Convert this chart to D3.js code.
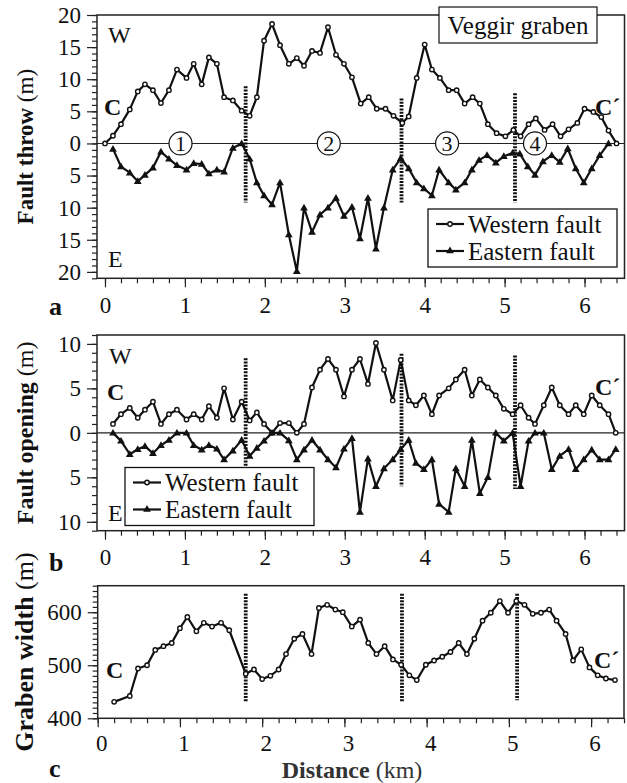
<!DOCTYPE html>
<html lang="en">
<head>
<meta charset="UTF-8" />
<title>Veggir graben</title>
<script src="https://d3js.org/d3.v7.min.js"></script>
<style>
  body { margin: 0; background: #fff; }
  svg { display: block; }
  text { font-family: 'Liberation Serif', 'Times New Roman', serif; fill: #111; }
  .axis line { stroke: #222; stroke-width: 1.2px; }
  .axis text { font-size: 23px; font-family: 'Liberation Serif', serif; fill: #111; }
  .frame { fill: none; stroke: #222; stroke-width: 1.5px; }
  .zero { stroke: #222; stroke-width: 1.1px; }
  .trace { fill: none; stroke: #111; stroke-width: 2.2px; stroke-linejoin: round; }
  .bound { stroke: #111; stroke-width: 3.8px; stroke-dasharray: 2 1.3; }
</style>
</head>
<body>
<svg width="627" height="783"></svg>
<script>
// panel a: fault throw (m), distance in km
const kmA_W = [0, 0.1, 0.2, 0.31, 0.41, 0.5, 0.6, 0.7, 0.8, 0.9,
  1.02, 1.11, 1.21, 1.3, 1.4, 1.49, 1.6, 1.71, 1.81, 1.9,
  1.99, 2.09, 2.19, 2.3, 2.4, 2.49, 2.59, 2.69, 2.79, 2.89,
  2.99, 3.09, 3.2, 3.3, 3.4, 3.51, 3.61, 3.72, 3.8, 3.9,
  4.0, 4.09, 4.19, 4.3, 4.4, 4.5, 4.6, 4.69, 4.79, 4.9,
  5.01, 5.11, 5.2, 5.3, 5.39, 5.5, 5.6, 5.7, 5.8, 5.91,
  6.0, 6.11, 6.21, 6.3, 6.4];
const throwW = [0, 1.2, 3.0, 5.3, 8.1, 9.2, 8.3, 6.3, 8.3, 11.5,
  10.2, 12.4, 9.2, 13.4, 12.4, 7.2, 6.7, 5.1, 4.3, 7.2,
  16.0, 18.6, 15.3, 12.4, 13.3, 12.1, 14.4, 14.1, 18.1, 13.8,
  12.4, 10.3, 6.2, 7.2, 5.4, 5.4, 4.3, 3.2, 4.2, 10.2,
  15.4, 11.5, 10.2, 8.3, 8.3, 6.2, 7.2, 6.2, 3.0, 1.6,
  1.1, 2.1, 1.1, 3.0, 3.9, 2.1, 3.0, 1.1, 2.2, 3.2,
  5.4, 4.9, 4.1, 2.0, 0];
const kmA_E = [0.1, 0.2, 0.31, 0.41, 0.5, 0.6, 0.7, 0.8, 0.9,
  1.02, 1.11, 1.21, 1.3, 1.4, 1.49, 1.6, 1.71, 1.81, 1.9,
  1.99, 2.09, 2.19, 2.3, 2.4, 2.49, 2.59, 2.69, 2.79, 2.89,
  2.99, 3.09, 3.19, 3.29, 3.39, 3.49, 3.6, 3.7, 3.8, 3.9,
  3.99, 4.09, 4.18, 4.3, 4.39, 4.5, 4.59, 4.68, 4.78, 4.89,
  4.99, 5.1, 5.19, 5.29, 5.38, 5.48, 5.59, 5.69, 5.79, 5.89,
  5.99, 6.09, 6.19, 6.3];
const throwE = [0.85, 3.6, 4.55, 5.9, 4.9, 3.8, 1.3, 2.4, 3.4,
  4.1, 3.1, 3.2, 4.7, 4.1, 4.4, 0.7, 0, 2.4, 6.1,
  8.1, 9.5, 6.1, 14.2, 19.9, 10.0, 13.8, 11.1, 10.0, 8.5,
  11.3, 9.9, 14.8, 8.5, 16.4, 10.0, 4.1, 2.3, 3.9, 6.1,
  7.0, 8.1, 4.1, 6.1, 7.2, 6.1, 4.1, 2.6, 1.85, 3.0,
  2.0, 1.5, 1.6, 3.6, 4.9, 2.8, 1.85, 2.9, 0.8, 3.9,
  6.1, 3.9, 1.85, 0];

// panel b: fault opening (m)
const kmB = [0.1, 0.2, 0.31, 0.41, 0.5, 0.6, 0.7, 0.8, 0.9,
  1.02, 1.11, 1.21, 1.3, 1.4, 1.49, 1.6, 1.71, 1.81, 1.9,
  1.99, 2.09, 2.19, 2.3, 2.4, 2.49, 2.59, 2.69, 2.79, 2.89,
  2.99, 3.09, 3.19, 3.29, 3.39, 3.49, 3.6, 3.7, 3.8, 3.89,
  3.99, 4.09, 4.18, 4.3, 4.39, 4.5, 4.59, 4.69, 4.79, 4.89,
  4.99, 5.1, 5.2, 5.3, 5.38, 5.49, 5.59, 5.69, 5.8, 5.89,
  5.99, 6.09, 6.19, 6.3, 6.39];
const openW = [1.0, 2.1, 2.8, 1.7, 2.6, 3.5, 1.0, 2.1, 2.6,
  1.5, 2.1, 1.5, 3.0, 1.7, 5.0, 1.5, 3.5, 1.4, 2.3,
  1.0, 0, 1.1, 1.1, 0, 1.0, 5.1, 7.1, 8.3, 7.1,
  4.1, 7.1, 8.3, 5.5, 10.1, 7.1, 3.65, 8.2, 3.65, 3.1,
  4.2, 2.1, 4.2, 5.0, 6.0, 7.1, 4.2, 6.0, 5.1, 4.2,
  2.7, 2.1, 3.1, 1.7, 1.0, 3.1, 5.1, 3.1, 2.1, 3.1,
  2.1, 4.2, 3.1, 2.1, 0];
const openE = [0, 0.9, 2.4, 1.85, 1.5, 2.3, 1.4, 0.8, 0,
  0, 1.4, 1.9, 1.4, 1.8, 3.0, 2.0, 0.8, 2.6, 1.7,
  0.9, 0, 0, 0.85, 3.0, 1.9, 0.8, 1.9, 3.0, 3.9,
  1.8, 0.6, 8.9, 2.9, 6.0, 4.0, 3.0, 1.85, 0.8, 3.4,
  4.1, 3.0, 8.0, 8.9, 4.0, 6.0, 0.8, 6.8, 5.0, 0,
  0.9, 0, 6.0, 0.9, 0, 0, 4.1, 2.6, 1.85, 4.1,
  3.0, 1.9, 3.0, 3.0, 1.85];

// panel c: graben width (m)
const kmC = [0.2, 0.39, 0.49, 0.6, 0.7, 0.8, 0.9, 1.0, 1.09, 1.2,
  1.29, 1.39, 1.5, 1.6, 1.8, 1.9, 2.0, 2.1, 2.2, 2.29,
  2.39, 2.49, 2.6, 2.69, 2.79, 2.89, 2.98, 3.09, 3.19, 3.29,
  3.39, 3.49, 3.59, 3.69, 3.79, 3.88, 3.99, 4.09, 4.19, 4.29,
  4.39, 4.49, 4.58, 4.68, 4.78, 4.89, 4.99, 5.09, 5.19, 5.29,
  5.39, 5.49, 5.58, 5.69, 5.78, 5.88, 5.98, 6.08, 6.18, 6.29];
const widthC = [431, 442, 494, 500, 529, 536, 542, 570, 591, 564,
  580, 573, 580, 566, 484, 492, 474, 480, 492, 521,
  550, 559, 521, 608, 614, 605, 600, 573, 586, 542,
  521, 536, 511, 501, 481, 472, 501, 509, 516, 525,
  542, 521, 550, 584, 599, 621, 599, 621, 614, 597,
  599, 605, 584, 559, 509, 530, 496, 481, 475, 472];

// segment boundaries (km) and the extent of the dashed marks
const boundAB = [1.76, 3.71, 5.13];
const boundC = [1.80, 3.70, 5.10];
const boundExtA = [[8.9, -9.2], [7.0, -9.2], [7.8, -9.2]];
const boundExtB = [[8.4, -4.1], [8.9, -6.0], [8.7, -6.3]];
const boundExtC = [[635, 432], [635, 432], [635, 434]];
const segKm = [0.945, 2.8, 4.28, 5.38];
const segLabels = ['1', '2', '3', '4'];
const legendNames = ['Western fault', 'Eastern fault'];

const svg = d3.select('svg');
const triangle = d3.symbol().type(d3.symbolTriangle).size(26);

function panel(cfg) {
  const x = d3.scaleLinear().domain(cfg.xDom).range([cfg.left, cfg.right]);
  const y = d3.scaleLinear().domain(cfg.yDom).range([cfg.bottom, cfg.top]);
  const g = svg.append('g');

  g.append('g').attr('class', 'axis').attr('transform', `translate(${cfg.left},0)`)
    .call(d3.axisLeft(y).tickValues(cfg.yMinor).tickSize(5).tickFormat(''))
    .call(s => s.select('.domain').remove());
  g.append('g').attr('class', 'axis').attr('transform', `translate(${cfg.left},0)`)
    .call(d3.axisLeft(y).tickValues(cfg.yMajor).tickSize(10).tickPadding(6).tickFormat(d => Math.abs(d)))
    .call(s => s.select('.domain').remove());

  const xMinor = d3.range(0, 33).map(i => +(i * 0.2).toFixed(1));
  g.append('g').attr('class', 'axis').attr('transform', `translate(0,${cfg.bottom})`)
    .call(d3.axisBottom(x).tickValues(xMinor).tickSize(5).tickFormat(''))
    .call(s => s.select('.domain').remove());
  g.append('g').attr('class', 'axis').attr('transform', `translate(0,${cfg.bottom})`)
    .call(d3.axisBottom(x).tickValues(d3.range(0, 7)).tickSize(9).tickPadding(cfg.xPad || 9).tickFormat(d3.format('d')))
    .call(s => s.select('.domain').remove())
    .call(s => s.selectAll('text').attr('dx', cfg.labelDx || 0));

  g.append('rect').attr('class', 'frame')
    .attr('x', cfg.left).attr('y', cfg.top)
    .attr('width', cfg.right - cfg.left).attr('height', cfg.bottom - cfg.top);

  // y title
  const t = g.append('text')
    .attr('transform', `translate(33,${(cfg.top + cfg.bottom) / 2}) rotate(-90)`)
    .attr('text-anchor', 'middle').style('font-size', cfg.titleSize + 'px');
  t.append('tspan').attr('font-weight', 'bold').text(cfg.title);
  t.append('tspan').text(' (m)');

  // panel letter
  g.append('text').attr('x', 49).attr('y', cfg.letterY)
    .attr('font-weight', 'bold').style('font-size', '26px').text(cfg.letter);

  return { x, y, g };
}

function boundaries(p, kms, ext) {
  p.g.selectAll('line.bound').data(kms).join('line').attr('class', 'bound')
    .attr('x1', d => p.x(d)).attr('x2', d => p.x(d))
    .attr('y1', (d, i) => p.y(ext[i][0])).attr('y2', (d, i) => p.y(ext[i][1]));
}

function trace(p, kms, vals, sign, marker) {
  const pts = d3.zip(kms, vals.map(v => v * sign));
  p.g.append('path').attr('class', 'trace')
    .attr('d', d3.line().x(d => p.x(d[0])).y(d => p.y(d[1]))(pts));
  const m = p.g.append('g');
  if (marker === 'tri') {
    m.selectAll('path').data(pts).join('path')
      .attr('d', triangle)
      .attr('transform', d => `translate(${p.x(d[0])},${p.y(d[1]) + 0.5})`)
      .attr('fill', '#111');
  } else {
    m.selectAll('circle').data(pts).join('circle')
      .attr('cx', d => p.x(d[0])).attr('cy', d => p.y(d[1])).attr('r', 2.2)
      .attr('fill', '#fff').attr('stroke', '#111').attr('stroke-width', 1.4);
  }
}

function zeroLine(p) {
  p.g.append('line').attr('class', 'zero')
    .attr('x1', p.x.range()[0]).attr('x2', p.x.range()[1])
    .attr('y1', p.y(0)).attr('y2', p.y(0));
}

function legend(g, lx, ly) {
  const w = 189, h = 58;
  g.append('rect').attr('x', lx).attr('y', ly).attr('width', w).attr('height', h)
    .attr('fill', '#fff').attr('stroke', '#111').attr('stroke-width', 1.3);
  legendNames.forEach((name, i) => {
    const cy = ly + 15 + i * 27;
    g.append('line').attr('x1', lx + 8).attr('x2', lx + 36).attr('y1', cy).attr('y2', cy)
      .attr('stroke', '#111').attr('stroke-width', 2.2);
    if (i === 0) {
      g.append('circle').attr('cx', lx + 22).attr('cy', cy).attr('r', 2.2)
        .attr('fill', '#fff').attr('stroke', '#111').attr('stroke-width', 1.4);
    } else {
      g.append('path').attr('d', triangle).attr('transform', `translate(${lx + 22},${cy})`).attr('fill', '#111');
    }
    g.append('text').attr('x', lx + 40).attr('y', cy + 8.5)
      .style('font-size', '25px').text(name);
  });
}

function label(g, x, y, txt, bold) {
  g.append('text').attr('x', x).attr('y', y)
    .attr('font-weight', bold ? 'bold' : 'normal')
    .style('font-size', '24px').text(txt);
}

// ---- panel a
const pa = panel({
  left: 97, right: 624.5, top: 15, bottom: 278.3,
  xDom: [-0.1, 6.5], yDom: [-21, 20],
  yMajor: d3.range(-20, 21, 5), yMinor: d3.range(-21, 21),
  title: 'Fault throw', titleSize: 23, letter: 'a', letterY: 315
});
zeroLine(pa);
boundaries(pa, boundAB, boundExtA);
const seg = pa.g.append('g').selectAll('g').data(segKm).join('g')
  .attr('transform', d => `translate(${pa.x(d)},${pa.y(0)})`);
seg.append('circle').attr('r', 11.5).attr('fill', '#fff').attr('stroke', '#111').attr('stroke-width', 1.2);
seg.append('text').attr('text-anchor', 'middle').attr('y', 7.5)
  .style('font-size', '22px').text((d, i) => segLabels[i]);
trace(pa, kmA_W, throwW, 1, 'circle');
trace(pa, kmA_E, throwE, -1, 'tri');
legend(pa.g, 428, 209);
label(pa.g, 108, 43, 'W');
label(pa.g, 108, 267, 'E');
label(pa.g, 104, 115, 'C', true);
label(pa.g, 595, 115, 'C\u00B4', true);
pa.g.append('rect').attr('x', 439).attr('y', 7).attr('width', 158).attr('height', 36)
  .attr('fill', '#fff').attr('stroke', '#111').attr('stroke-width', 1.2);
pa.g.append('text').attr('x', 518).attr('y', 34).attr('text-anchor', 'middle')
  .style('font-size', '25px').text('Veggir graben');

// ---- panel b
const pb = panel({
  left: 97, right: 624.5, top: 335, bottom: 530.7,
  xDom: [-0.1, 6.5], yDom: [-11, 11],
  yMajor: d3.range(-10, 11, 5), yMinor: d3.range(-11, 12),
  title: 'Fault opening', titleSize: 24, letter: 'b', letterY: 571
});
zeroLine(pb);
boundaries(pb, boundAB, boundExtB);
trace(pb, kmB, openW, 1, 'circle');
trace(pb, kmB, openE, -1, 'tri');
label(pb.g, 109, 364, 'W');
label(pb.g, 108, 521, 'E');
label(pb.g, 107, 400, 'C', true);
label(pb.g, 595, 395, 'C\u00B4', true);
legend(pb.g, 125, 467.5);

// ---- panel c
const pc = panel({
  left: 97.7, right: 624, top: 585.7, bottom: 718.3,
  xDom: [0, 6.4], yDom: [400, 650],
  yMajor: [400, 500, 600], yMinor: d3.range(400, 651, 10),
  title: 'Graben width', titleSize: 26, letter: 'c', letterY: 777,
  labelDx: 3.5, xPad: 7
});
boundaries(pc, boundC, boundExtC);
trace(pc, kmC, widthC, 1, 'circle');
label(pc.g, 106, 678, 'C', true);
label(pc.g, 594, 668, 'C\u00B4', true);

const xt = svg.append('text').attr('x', 352).attr('y', 777.5).attr('text-anchor', 'middle')
  .style('font-size', '24px').style('fill', '#333');
xt.append('tspan').attr('font-weight', 'bold').text('Distance');
xt.append('tspan').text(' (km)');
</script>
</body>
</html>
